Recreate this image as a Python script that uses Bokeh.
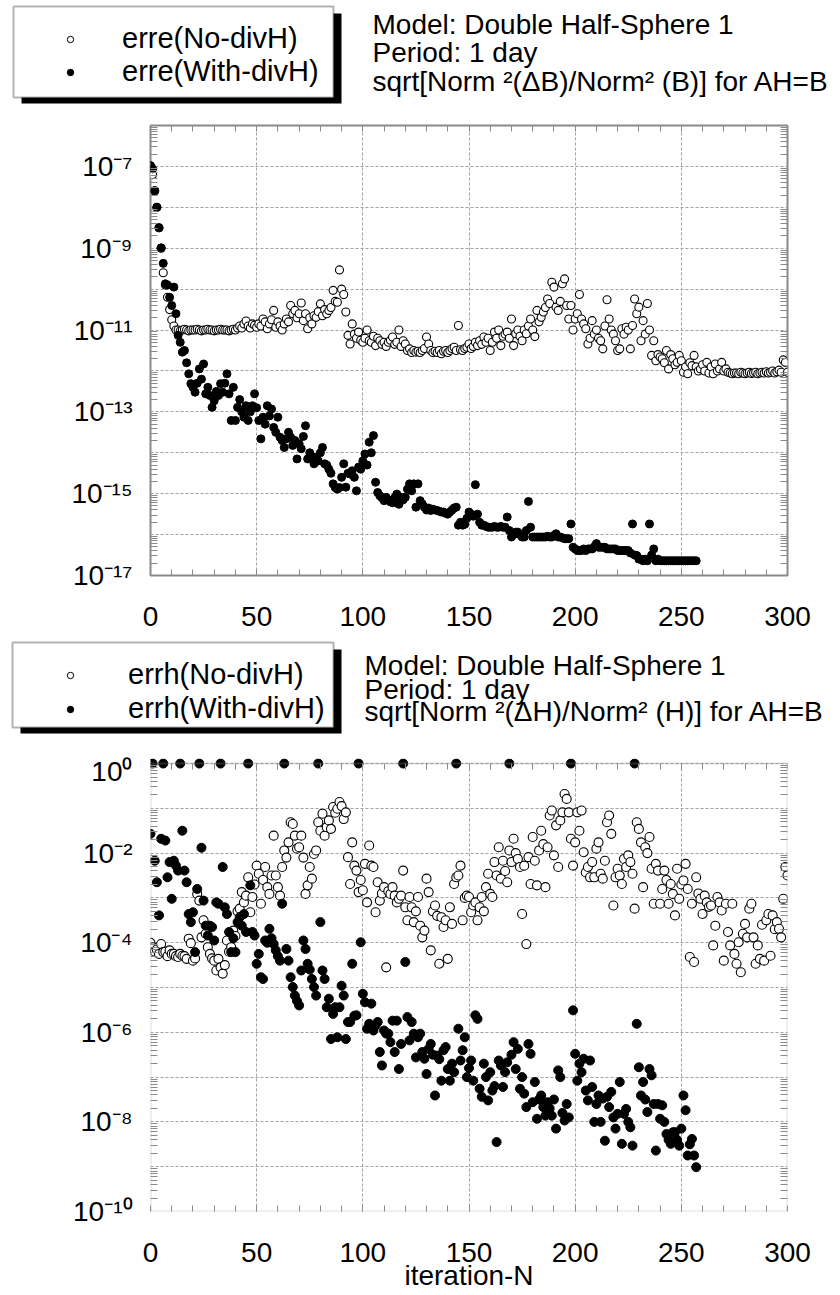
from bokeh.plotting import figure
from bokeh.models import (Range1d, FixedTicker, CustomJSTickFormatter, LinearAxis,
                          LogAxis, Legend, LegendItem, Label, BoxAnnotation)
from bokeh.layouts import column
from bokeh.embed import file_html
from bokeh.resources import INLINE

# ---------------- data (log10 of the plotted values, one value per iteration) -------------
erre_no_divh_exp = [
    -7.0, -7.2, -7.6, -8.0, -8.5, -9.0, -9.6, -9.9, -10.2, -10.5, -10.75,
    -10.9, -11.0, -11.0, -11.02, -11.0, -10.98, -11.0, -11.02, -11.0, -11.0,
    -11.0, -10.98, -11.0, -11.02, -11.0, -11.0, -10.98, -11.0, -11.0, -11.02,
    -11.0, -11.0, -10.98, -11.0, -11.0, -11.0, -11.02, -11.0, -10.98, -11.0,
    -10.95, -10.9, -10.95, -10.85, -10.78, -10.9, -10.95, -10.85, -10.88, -10.93,
    -10.85, -10.9, -10.73, -10.8, -10.97, -10.85, -10.75, -10.52, -10.93, -10.8,
    -10.9, -11.0, -10.85, -10.73, -10.8, -10.4, -10.6, -10.52, -10.7, -10.6,
    -10.34, -10.77, -10.6, -10.97, -10.7, -10.85, -10.65, -10.69, -10.55, -10.36,
    -10.65, -10.5, -10.6, -10.52, -10.45, -10.03, -10.3, -10.32, -9.53, -10.0,
    -10.13, -10.56, -11.13, -11.34, -10.85, -11.1, -11.2, -11.05, -11.25, -11.3,
    -11.2, -11.0, -11.26, -11.3, -11.15, -11.38, -11.2, -11.26, -11.35, -11.3,
    -11.4, -11.3, -11.25, -11.17, -11.35, -11.3, -11.0, -11.4, -11.26, -11.34,
    -11.5, -11.46, -11.55, -11.5, -11.54, -11.52, -11.55, -11.5, -11.45, -11.17,
    -11.34, -11.5, -11.55, -11.52, -11.55, -11.5, -11.58, -11.52, -11.5, -11.55,
    -11.5, -11.45, -11.42, -11.5, -10.89, -11.48, -11.5, -11.45, -11.42, -11.34,
    -11.45, -11.4, -11.3, -11.38, -11.26, -11.35, -11.17, -11.3, -11.2, -11.5,
    -11.3, -11.05, -11.2, -11.0, -11.38, -11.15, -11.1, -11.05, -11.2, -10.73,
    -11.38, -11.09, -11.0, -11.15, -11.26, -11.0, -11.09, -10.9, -10.73, -11.0,
    -11.16, -10.52, -10.8, -10.69, -10.56, -10.45, -10.24, -10.35, -9.83, -9.95,
    -10.44, -10.52, -10.3, -9.87, -9.75, -10.4, -10.73, -10.4, -11.0, -10.73,
    -10.6, -10.13, -10.73, -10.85, -10.97, -11.34, -11.2, -10.77, -11.1, -11.0,
    -11.2, -11.26, -11.46, -10.9, -10.26, -10.73, -11.0, -11.1, -11.26, -11.5,
    -11.46, -10.97, -11.1, -10.93, -11.0, -11.46, -10.89, -10.24, -10.6, -10.44,
    -11.26, -10.77, -11.1, -10.35, -11.0, -11.62, -11.26, -11.75, -11.6, -11.66,
    -11.7, -11.8, -11.5, -11.95, -11.6, -11.7, -11.85, -11.79, -11.62, -11.75,
    -12.03, -11.9, -12.07, -11.8, -11.87, -11.62, -11.9, -12.0, -11.95, -11.85,
    -12.0, -11.79, -12.05, -11.9, -12.07, -11.83, -12.0, -11.95, -11.79, -12.0,
    -11.95, -12.03, -12.05, -12.07, -12.05, -12.05, -12.07, -12.03, -12.05, -12.07,
    -12.05, -12.03, -12.06, -12.05, -12.03, -12.07, -12.05, -12.03, -12.05, -12.02,
    -12.05, -12.03, -12.0, -12.05, -12.02, -11.98, -12.03, -11.73, -11.79, -12.03,
]

erre_with_divh_exp = [
    -6.98, -7.06, -7.59, -8.0, -8.5, -8.99, -9.37, -9.87, -9.9, -10.2, -10.4,
    -9.95, -10.6, -11.13, -11.3, -11.54, -11.5, -11.8, -12.07, -12.31, -12.4,
    -12.52, -12.3, -11.95, -12.2, -11.83, -12.56, -12.4, -12.6, -12.89, -12.73,
    -12.5, -12.6, -12.31, -12.52, -12.3, -12.07, -12.56, -13.21, -12.4, -13.21,
    -12.89, -12.7, -13.0, -13.13, -12.85, -13.21, -13.0, -12.85, -12.56, -12.9,
    -13.21, -13.66, -13.13, -13.3, -12.85, -13.1, -12.93, -13.38, -13.5, -13.13,
    -13.62, -13.7, -13.87, -13.66, -13.5, -13.62, -13.82, -13.7, -14.15, -13.78,
    -13.9, -13.6, -13.34, -14.15, -14.0, -14.1, -14.27, -14.11, -14.2, -14.0,
    -13.87, -14.27, -14.3, -14.4, -14.5, -14.76, -14.85, -14.89, -14.85, -14.6,
    -14.27, -14.84, -14.5, -14.52, -14.44, -14.6, -14.93, -14.35, -14.4, -14.2,
    -14.03, -14.3, -13.74, -14.0, -13.58, -14.72, -14.97, -15.05, -15.1, -15.17,
    -15.09, -15.15, -15.2, -15.22, -15.1, -15.01, -15.26, -15.09, -15.15, -15.09,
    -14.89, -14.76, -14.93, -14.76, -15.33, -14.76, -15.17, -15.25, -15.33, -15.4,
    -15.35, -15.41, -15.38, -15.4, -15.41, -15.43, -15.45, -15.45, -15.48, -15.5,
    -15.45, -15.4, -15.35, -15.33, -15.77, -15.7, -15.77, -15.75, -15.6, -15.45,
    -15.5, -15.55, -14.78, -15.5, -15.7, -15.77, -15.77, -15.8, -15.82, -15.82,
    -15.82, -15.8, -15.82, -15.82, -15.8, -15.82, -15.82, -15.57, -15.9, -16.06,
    -16.0, -15.94, -15.94, -16.0, -16.06, -16.06, -15.9, -15.19, -15.82, -16.06,
    -16.06, -16.06, -16.06, -16.06, -16.06, -16.06, -16.04, -16.06, -16.06, -16.02,
    -15.98, -16.06, -16.06, -16.08, -16.1, -16.1, -16.1, -15.74, -16.31, -16.35,
    -16.39, -16.39, -16.39, -16.35, -16.39, -16.35, -16.35, -16.35, -16.3, -16.22,
    -16.31, -16.31, -16.31, -16.31, -16.35, -16.35, -16.35, -16.35, -16.35, -16.39,
    -16.39, -16.39, -16.39, -16.39, -16.39, -16.45, -15.74, -16.5, -16.51, -16.6,
    -16.6, -16.64, -16.6, -16.64, -15.74, -16.5, -16.35, -16.64, -16.6, -16.64,
    -16.64, -16.64, -16.64, -16.64, -16.64, -16.64, -16.64, -16.64, -16.64, -16.64,
    -16.64, -16.64, -16.64, -16.64, -16.64, -16.64, -16.64,
]

errh_no_divh_exp = [
    -4.0, -4.1, -4.2, -4.15, -4.25, -4.03, -4.21, -4.2, -4.3, -4.17, -4.25,
    -4.25, -4.3, -4.32, -4.25, -4.29, -4.3, -4.36, -3.91, -4.01, -4.4,
    -4.35, -2.91, -3.06, -3.88, -3.5, -3.8, -4.1, -4.25, -4.35, -4.4,
    -4.62, -4.36, -4.55, -4.69, -4.5, -3.95, -4.2, -4.1, -3.73, -3.85,
    -3.3, -3.24, -2.87, -3.1, -2.95, -2.54, -3.32, -2.98, -2.7, -2.28,
    -2.46, -3.13, -2.6, -2.31, -2.76, -2.91, -2.5, -1.61, -2.5, -2.76,
    -2.95, -2.31, -1.94, -2.1, -1.76, -1.31, -1.35, -1.61, -1.9, -1.87,
    -1.61, -2.1, -2.91, -2.72, -2.31, -2.57, -2.02, -1.94, -1.31, -1.5,
    -1.12, -1.61, -1.42, -1.27, -1.46, -0.97, -1.1, -1.01, -0.86, -0.95,
    -1.24, -1.09, -2.09, -2.69, -1.76, -2.28, -2.39, -2.87, -2.6, -2.83,
    -2.24, -3.1, -1.83, -2.28, -2.31, -3.32, -2.65, -3.06, -2.9, -2.76,
    -4.55, -2.85, -2.91, -2.76, -2.95, -3.1, -3.02, -2.95, -2.39, -3.21,
    -3.5, -2.98, -3.21, -3.54, -3.3, -2.98, -3.62, -3.88, -3.73, -2.57,
    -2.87, -4.17, -3.3, -3.17, -3.4, -4.47, -3.43, -3.65, -3.5, -4.36,
    -3.21, -3.58, -2.69, -2.54, -2.5, -2.28, -3.5, -3.0, -2.95, -2.98,
    -3.32, -3.17, -3.1, -3.5, -3.21, -2.98, -3.3, -2.76, -2.46, -2.91,
    -2.98, -2.2, -2.5, -1.87, -2.57, -2.17, -2.4, -2.65, -1.94, -2.2,
    -1.68, -2.0, -2.13, -2.31, -3.36, -2.28, -4.03, -2.09, -2.69, -1.64,
    -2.17, -2.72, -1.94, -1.5, -1.8, -2.76, -1.87, -1.16, -1.05, -2.05,
    -1.38, -2.31, -1.27, -1.09, -0.68, -0.79, -1.09, -1.68, -2.28, -1.76,
    -1.09, -1.5, -1.05, -1.98, -2.43, -2.31, -2.54, -2.2, -2.54, -1.9,
    -1.76, -2.46, -2.57, -2.17, -1.31, -1.16, -1.57, -3.17, -2.54, -2.35,
    -2.5, -2.69, -2.13, -2.31, -2.05, -2.2, -2.46, -3.24, -1.31, -1.46,
    -1.76, -2.76, -1.87, -2.0, -1.64, -2.35, -3.13, -2.24, -2.39, -3.13,
    -2.8, -2.39, -2.6, -3.13, -2.69, -2.91, -3.39, -2.35, -3.02, -2.7,
    -2.61, -2.24, -2.8, -4.32, -3.13, -4.43, -2.54, -2.9, -3.02, -3.36,
    -2.95, -3.1, -3.2, -3.17, -4.06, -3.62, -2.98, -3.1, -3.28, -4.4,
    -3.13, -3.76, -4.06, -3.13, -4.25, -4.47, -3.99, -4.66, -3.8, -3.58,
    -3.88, -3.24, -3.13, -3.88, -4.47, -4.06, -4.36, -3.6, -4.4, -3.5,
    -3.36, -4.29, -3.39, -3.7, -3.54, -3.69, -3.88, -3.02, -2.31, -2.5,
]

errh_with_divh_exp = [
    -1.57, 0.0, -2.17, -2.65, -3.39, -1.68, 0.0, -1.72, -2.54, -2.2, -3.02,
    -2.17, -2.28, -2.39, 0.0, -1.5, -2.39, -2.65, -3.36, -3.54, -3.32,
    -4.21, -2.8, 0.0, -1.88, -3.06, -3.62, -3.84, -3.62, -3.65, -3.95,
    -3.1, -3.13, 0.0, -2.31, -3.21, -3.36, -3.76, -4.21, -3.9, -4.21,
    -3.54, -3.43, -3.62, -3.36, -3.76, 0.0, -2.72, -3.76, -3.84, -4.47,
    -4.25, -4.77, -4.81, -3.95, -4.0, -3.69, -3.9, -4.03, -4.17, -4.3,
    -4.4, -3.13, 0.0, -4.14, -4.4, -4.77, -4.99, -5.18, -5.3, -5.4,
    -4.62, -3.95, -4.14, -4.47, -4.6, -4.81, -4.99, -5.18, 0.0, -3.54,
    -4.62, -4.81, -5.44, -5.25, -6.15, -5.59, -5.44, -6.11, -5.44, -4.96,
    -5.18, -6.15, -5.77, -5.77, -4.47, -5.63, -5.62, 0.0, -3.99, -5.14,
    -5.33, -5.92, -5.81, -5.36, -5.96, -5.85, -5.77, -6.44, -6.74, -5.96,
    -6.03, -6.03, -6.22, -5.74, -6.44, -5.74, -6.82, -6.26, 0.0, -4.43,
    -5.66, -6.18, -5.77, -6.03, -6.56, -6.11, -6.03, -6.44, -6.59, -6.93,
    -6.37, -6.26, -6.5, -7.41, -6.52, -6.6, -7.08, -6.4, -6.33, -6.82,
    -7.08, -6.7, -6.89, 0.0, -5.92, -6.63, -6.4, -6.11, -7.0, -6.8,
    -6.63, -7.08, -5.62, -5.7, -7.26, -7.44, -6.7, -7.0, -7.52, -6.89,
    -7.3, -7.2, -8.45, -6.63, -6.74, -7.22, -6.89, -6.67, 0.0, -6.5,
    -6.22, -6.82, -6.37, -7.26, -7.0, -7.37, -7.67, -6.26, -6.48, -7.56,
    -7.11, -7.93, -7.5, -7.41, -7.67, -7.86, -7.56, -7.7, -7.86, -7.5,
    -8.15, -6.85, -7.0, -7.8, -7.97, -7.6, -7.9, 0.0, -5.51, -6.48,
    -7.08, -6.7, -6.89, -6.59, -7.3, -7.52, -6.63, -7.22, -8.0, -7.6,
    -7.41, -8.0, -7.48, -8.42, -7.44, -7.67, -7.33, -7.9, -8.15, -7.82,
    -7.11, -8.49, -7.82, -7.71, -8.0, -8.12, -8.53, 0.0, -5.81, -6.78,
    -7.41, -7.11, -7.5, -7.78, -6.82, -6.96, -7.6, -8.64, -7.6, -7.93,
    -7.63, -8.0, -8.27, -8.4, -8.49, -8.23, -8.23, -8.4, -8.53, -8.15,
    -7.41, -7.74, -8.75, -8.5, -8.38, -8.75, -9.01,
]

x_tick_values = [0, 50, 100, 150, 200, 250, 300]
x_minor_values = list(range(0, 301, 10))

top_legend_labels = ["erre(No-divH)", "erre(With-divH)"]
bottom_legend_labels = ["errh(No-divH)", "errh(With-divH)"]
top_title_lines = ["Model: Double Half-Sphere 1", "Period: 1 day",
                   "sqrt[Norm \u00b2(\u0394B)/Norm\u00b2 (B)] for AH=B"]
bottom_title_lines = ["Model: Double Half-Sphere 1", "Period: 1 day",
                      "sqrt[Norm \u00b2(\u0394H)/Norm\u00b2 (H)] for AH=B"]
x_axis_title = "iteration-N"

# ---------------- styling ----------------
FONT = "Liberation Sans"
FRAME_COLOR = "#8a8a8a"
GRID_COLOR = "#a3a3a3"
W = 840

SUP_JS = r"""
const e = Math.round(Math.log10(tick));
if (Math.abs(e) % 2 !== parity) { return ""; }
const m = {"0":"\u2070","1":"\u00b9","2":"\u00b2","3":"\u00b3","4":"\u2074",
           "5":"\u2075","6":"\u2076","7":"\u2077","8":"\u2078","9":"\u2079","-":"\u207b"};
return "10" + String(e).split("").map(c => m[c]).join("");
"""
EMPTY_JS = "return '';"


def decades(lo, hi):
    major = [10.0 ** e for e in range(lo, hi + 1)]
    minor = [k * 10.0 ** e for e in range(lo, hi) for k in range(2, 10)]
    return major, minor


def style_axis(ax, minor_in, labels=True):
    ax.major_tick_in = 0
    ax.major_tick_out = 0
    ax.minor_tick_in = minor_in
    ax.minor_tick_out = 0
    ax.minor_tick_line_color = FRAME_COLOR
    ax.minor_tick_line_width = 1
    ax.axis_line_color = None
    ax.major_label_text_font = FONT
    ax.major_label_text_color = "black"
    if labels:
        ax.major_label_text_font_size = "28px"
    else:
        ax.formatter = CustomJSTickFormatter(code=EMPTY_JS)
        ax.major_label_text_font_size = "0px"
        ax.major_label_standoff = 0


def make_plot(e_lo, e_hi, y_end, frame_h, top_b, bottom_b, parity, open_exp, filled_exp,
              msize, extend_top, x_title=None):
    p = figure(frame_width=637, frame_height=frame_h,
               x_range=Range1d(0, 300), y_range=Range1d(10.0 ** e_lo, y_end),
               y_axis_type="log", output_backend="svg", toolbar_location=None,
               min_border_left=150, min_border_right=53,
               min_border_top=top_b, min_border_bottom=bottom_b,
               background_fill_color="white", border_fill_color="white")
    p.frame_align = False
    ymaj, ymin = decades(e_lo, e_hi)
    yt = FixedTicker(ticks=ymaj, minor_ticks=ymin)
    xt = FixedTicker(ticks=x_tick_values, minor_ticks=x_minor_values)

    xa = p.below[0]
    xa.ticker = xt
    style_axis(xa, 6)
    xa.major_label_standoff = 31
    if x_title:
        xa.axis_label = x_title
        xa.axis_label_text_font = FONT
        xa.axis_label_text_font_size = "28px"
        xa.axis_label_text_font_style = "normal"
        xa.axis_label_text_color = "black"
        xa.axis_label_standoff = -5
    ya = p.left[0]
    ya.ticker = yt
    ya.formatter = CustomJSTickFormatter(args=dict(parity=parity), code=SUP_JS)
    style_axis(ya, 7)
    ya.major_label_standoff = 18

    ra = LogAxis(ticker=yt)
    style_axis(ra, 7, labels=False)
    p.add_layout(ra, "right")
    ta = LinearAxis(ticker=xt)
    style_axis(ta, 6, labels=False)
    if extend_top:
        ta.fixed_location = 10.0 ** e_hi
    p.add_layout(ta, "above")

    for g, t in ((p.xgrid[0], x_tick_values), (p.ygrid[0], ymaj)):
        g.ticker = FixedTicker(ticks=t)
        g.grid_line_color = GRID_COLOR
        g.grid_line_dash = "3 2"
        g.grid_line_width = 1
    if extend_top:
        p.xgrid[0].cross_bounds = (10.0 ** e_lo, 10.0 ** e_hi)
        p.outline_line_color = None
        p.add_layout(BoxAnnotation(left=0, right=300, bottom=10.0 ** e_lo, top=10.0 ** e_hi,
                                   fill_alpha=0, line_color=FRAME_COLOR, line_width=2))
    else:
        p.outline_line_color = FRAME_COLOR
        p.outline_line_width = 2

    p.scatter(x=list(range(len(open_exp))), y=[10.0 ** v for v in open_exp],
              marker="circle", size=msize, fill_color="white",
              line_color="black", line_width=1.1)
    p.scatter(x=list(range(len(filled_exp))), y=[10.0 ** v for v in filled_exp],
              marker="circle", size=msize, fill_color="black",
              line_color="black", line_width=1)
    return p


def make_header(y0, y1, leg_labels, open_exp, filled_exp, leg_loc, leg_spacing,
                leg_standoff, box, title_lines, title_x, title_ys, title_size):
    """Header strip: legend box with drop shadow and the three text lines.
    Its ranges are page pixels, so positions below are page coordinates."""
    h = figure(width=W, height=y1 - y0, x_range=Range1d(0, W), y_range=Range1d(y1, y0),
               x_axis_location=None, y_axis_location=None, min_border=0,
               output_backend="svg", toolbar_location=None,
               background_fill_color="white", border_fill_color="white")
    h.frame_align = False
    h.outline_line_color = None
    h.grid.visible = False
    bl, br, bt, bb = box
    h.add_layout(BoxAnnotation(left=bl + 8, right=br + 8, top=bt + 7, bottom=bb + 6,
                               fill_color="black", fill_alpha=1, line_color=None))
    h.add_layout(BoxAnnotation(left=bl, right=br, top=bt, bottom=bb,
                               fill_color="white", fill_alpha=1,
                               line_color="black", line_width=2))
    # the series themselves (hidden here; they are drawn in the plot below) feed the legend
    r_open = h.scatter(x=list(range(len(open_exp))), y=[10.0 ** v for v in open_exp],
                       marker="circle", size=8, fill_color="white",
                       line_color="black", line_width=1, visible=False)
    r_fill = h.scatter(x=list(range(len(filled_exp))), y=[10.0 ** v for v in filled_exp],
                       marker="circle", size=8, fill_color="black",
                       line_color="black", line_width=1, visible=False)
    leg = Legend(items=[LegendItem(label=leg_labels[0], renderers=[r_open]),
                        LegendItem(label=leg_labels[1], renderers=[r_fill])],
                 location=leg_loc, orientation="vertical",
                 background_fill_alpha=0, border_line_color=None,
                 padding=5, margin=0, spacing=leg_spacing,
                 glyph_width=16, glyph_height=16, label_standoff=leg_standoff,
                 label_text_font=FONT, label_text_font_size="29px",
                 label_text_color="black", label_height=28,
                 inactive_fill_alpha=0)
    h.add_layout(leg)
    for txt, ty in zip(title_lines, title_ys):
        h.add_layout(Label(x=title_x, y=ty, text=txt,
                           text_font=FONT, text_font_size=title_size,
                           text_color="black", text_baseline="middle",
                           text_align="left"))
    return h


head_top = make_header(0, 112, top_legend_labels, erre_no_divh_exp, erre_with_divh_exp,
                       (62, 24), -5, 44, (13, 333, 6, 97),
                       top_title_lines, 372, (24, 52, 81), "28px")
p_top = make_plot(-17, -6, 1e-6, 450, 13, 65, 1, erre_no_divh_exp, erre_with_divh_exp,
                  8, False)
head_bot = make_header(640, 755, bottom_legend_labels, errh_no_divh_exp, errh_with_divh_exp,
                       (62, 30), 1, 50, (12, 333, 642, 727),
                       bottom_title_lines, 364, (665, 689, 711), "28px")
p_bot = make_plot(-10, 0, 10.0 ** 0.112, 453, 3, 84, 0, errh_no_divh_exp, errh_with_divh_exp,
                  9, True, x_title=x_axis_title)

layout = column(head_top, p_top, head_bot, p_bot, spacing=0)
open("out.html", "w").write(file_html(layout, INLINE))
